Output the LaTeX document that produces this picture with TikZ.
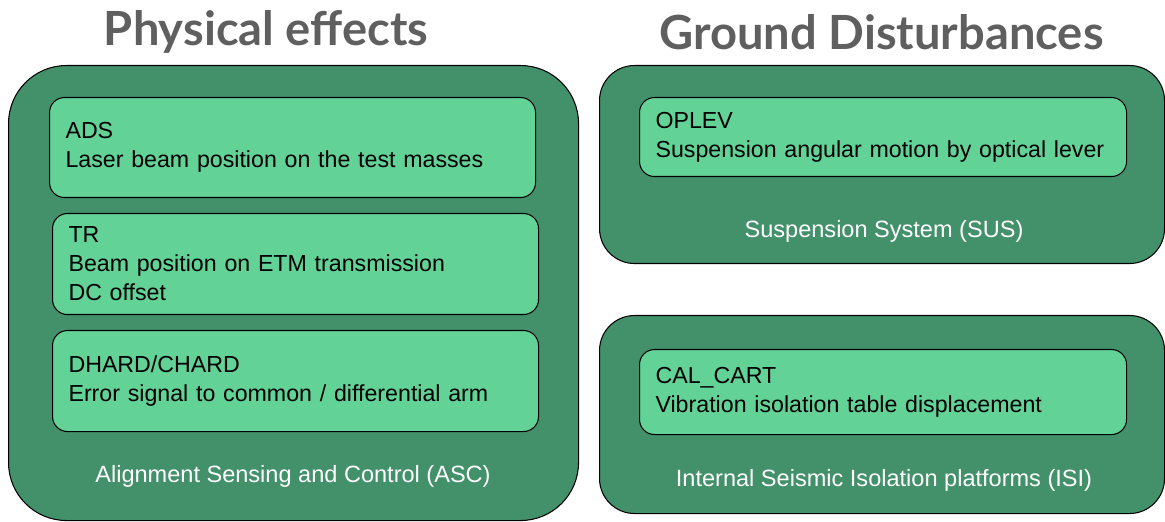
\documentclass[tikz,border=0pt]{standalone}
\usepackage{fontspec}
\setmainfont{Liberation Sans}
\newfontfamily\headfont{Lato}
\usepackage{xcolor}
\usepackage{tikz}
\usetikzlibrary{positioning}

\definecolor{groupgreen}{HTML}{43916A}
\definecolor{itemgreen}{HTML}{63D297}
\definecolor{headgray}{HTML}{5F5F5F}

\tikzset{
    group/.style={draw=black, line width=0.6pt, fill=groupgreen, anchor=north west},
    item/.style={draw=black, line width=0.6pt, fill=itemgreen, rounded corners=0.3cm,
        anchor=north west, align=left, inner xsep=0.32cm,
        font=\fontsize{13.2}{16.5}\selectfont},
    grouplabel/.style={text=white, font=\fontsize{13.4}{16}\selectfont},
    heading/.style={text=headgray, font=\headfont\bfseries\fontsize{26.8}{32}\selectfont},
}

\begin{document}
\begin{tikzpicture}
    \useasboundingbox (0,0) rectangle (23.3,10.42);

    % titles
    \node[heading] (phys) at (5.32,9.78) {Physical effects};
    \node[heading] (ground) at (17.63,9.78) {Ground Disturbances};

    % outer groups
    \node[group, rounded corners=1.16cm, minimum width=11.4cm, minimum height=9.1cm] (asc) at (0.16,9.12) {};
    \node[group, rounded corners=0.7cm, minimum width=11.3cm, minimum height=3.96cm] (sus) at (11.98,9.12) {};
    \node[group, rounded corners=0.7cm, minimum width=11.3cm, minimum height=3.96cm] (isi) at (11.98,4.12) {};

    \node[grouplabel] (asclab) at (5.86,0.9) {Alignment Sensing and Control (ASC)};
    \node[grouplabel] (suslab) at (17.68,5.8) {Suspension System (SUS)};
    \node[grouplabel] (isilab) at (17.68,0.82) {Internal Seismic Isolation platforms (ISI)};

    % signals inside ASC
    \node[item, text width=9.08cm, minimum height=2cm] (ads) at (0.98,8.48)
        {ADS\\Laser beam position on the test masses};
    \node[item, text width=9.08cm, minimum height=2.02cm] (tr) at (1.04,6.16)
        {TR\\Beam position on ETM transmission\\DC offset};
    \node[item, text width=9.08cm, minimum height=2.02cm] (hard) at (1.04,3.82)
        {DHARD/CHARD\\Error signal to common / differential arm};

    % signals inside SUS and ISI
    \node[item, text width=9.10cm, minimum height=1.58cm] (oplev) at (12.78,8.48)
        {OPLEV\\Suspension angular motion by optical lever};
    \node[item, text width=9.10cm, minimum height=1.7cm] (cart) at (12.78,3.44)
        {CAL\_CART\\Vibration isolation table displacement};
\end{tikzpicture}
\end{document}
